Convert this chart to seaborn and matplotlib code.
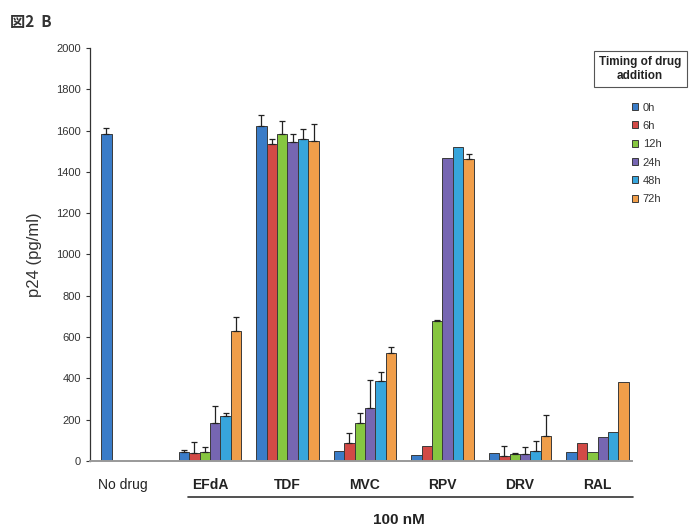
import matplotlib
matplotlib.use("Agg")
import matplotlib.pyplot as plt
import matplotlib.transforms as mtransforms
import seaborn as sns
import numpy as np
import pandas as pd
from matplotlib.lines import Line2D

drugs = ["No drug", "EFdA", "TDF", "MVC", "RPV", "DRV", "RAL"]
timings = ["0h", "6h", "12h", "24h", "48h", "72h"]

# mean p24 values (pg/ml) per drug, one per timing
v_nodrug = [1582, np.nan, np.nan, np.nan, np.nan, np.nan]
v_efda = [43, 37, 43, 186, 220, 631]
v_tdf = [1622, 1534, 1583, 1543, 1561, 1548]
v_mvc = [50, 89, 182, 255, 387, 524]
v_rpv = [29, 71, 679, 1466, 1519, 1461]
v_drv = [37, 24, 34, 32, 50, 122]
v_ral = [44, 87, 42, 118, 140, 382]

# upper error (SD)
e_nodrug = [29, 0, 0, 0, 0, 0]
e_efda = [12, 56, 23, 80, 11, 68]
e_tdf = [54, 24, 63, 40, 45, 82]
e_mvc = [0, 45, 52, 137, 43, 26]
e_rpv = [0, 0, 5, 0, 0, 24]
e_drv = [0, 50, 3, 37, 47, 100]
e_ral = [0, 0, 0, 0, 0, 0]

vals = [v_nodrug, v_efda, v_tdf, v_mvc, v_rpv, v_drv, v_ral]
errs = [e_nodrug, e_efda, e_tdf, e_mvc, e_rpv, e_drv, e_ral]

colors = ["#3a7cc8", "#d24a46", "#86c640", "#7666b2", "#37a5dc", "#f09e4a"]

rows = []
for d, vs, es in zip(drugs, vals, errs):
    for t, v, e in zip(timings, vs, es):
        rows.append({"drug": d, "timing": t, "p24": v, "err": e})
df = pd.DataFrame(rows)

sns.set_theme(style="white")
plt.rcParams["font.family"] = ["Liberation Sans", "Noto Sans CJK JP", "DejaVu Sans"]

W, H = 695, 529
fig = plt.figure(figsize=(W / 100, H / 100), dpi=100)
ax = fig.add_axes([90 / W, 1 - 461 / H, (632 - 90) / W, (461 - 48) / H])

sns.barplot(data=df, x="drug", y="p24", hue="timing", order=drugs,
            hue_order=timings, palette=colors, errorbar=None, width=0.81,
            saturation=1, edgecolor="#3a3a3a", linewidth=0.7, ax=ax, legend=True)

# error bars (upper only) using bar positions from the drawn bars
for cont, t in zip(ax.containers, timings):
    sub = df[df["timing"] == t].set_index("drug")
    for bar in cont.patches:
        xc = bar.get_x() + bar.get_width() / 2
        h = bar.get_height()
        if not np.isfinite(h):
            continue
        d = drugs[int(round(xc))]
        e = sub.loc[d, "err"]
        if e <= 0:
            continue
        ax.errorbar(xc, h, yerr=[[0], [e]], fmt="none", ecolor="#222222",
                    elinewidth=0.9, capsize=2.5, capthick=0.9, zorder=1)

ax.set_xlim(-0.548, 6.445)
ax.set_ylim(0, 2000)
ax.set_yticks(np.arange(0, 2001, 200))
ax.tick_params(axis="y", labelsize=8, labelcolor="#333333", length=3,
               width=0.8, color="#333333", direction="out", left=True)
ax.tick_params(axis="x", length=0, pad=12)
ax.set_xlabel("")
ax.set_ylabel("p24 (pg/ml)", fontsize=12, color="#333333", labelpad=10)

labels = ax.get_xticklabels()
for lab in labels:
    lab.set_fontsize(10)
    lab.set_color("#222222")
    if lab.get_text() != "No drug":
        lab.set_fontweight("bold")
    else:
        lab.set_transform(lab.get_transform() +
                          mtransforms.ScaledTranslation(-0.1, 0, fig.dpi_scale_trans))

for s in ["top", "right"]:
    ax.spines[s].set_visible(False)
ax.spines["left"].set_color("#333333")
ax.spines["left"].set_linewidth(0.9)
ax.spines["bottom"].set_color("#999999")
ax.spines["bottom"].set_linewidth(1.4)

# legend
handles, lbls = ax.get_legend_handles_labels()
leg = ax.legend(handles, lbls, loc="upper left", bbox_to_anchor=(626 / W, 1 - 97 / H),
                bbox_transform=fig.transFigure, frameon=False, fontsize=8,
                handlelength=0.6, handleheight=0.6, handletextpad=0.4,
                labelspacing=0.75, borderpad=0)
for t in leg.get_texts():
    t.set_color("#333333")

fig.text(640 / W, 1 - 69 / H, "Timing of drug\naddition", ha="center", va="center",
         fontsize=8.5, fontweight="bold", color="#222222", linespacing=1.15,
         bbox=dict(boxstyle="square,pad=0.45", facecolor="white",
                   edgecolor="#555555", linewidth=0.8))

fig.text(10 / W, 1 - 22 / H, "図2  B", ha="left", va="center", fontsize=11,
         fontweight="bold", color="#333333",
         family=["Noto Sans CJK JP", "DejaVu Sans"])

fig.add_artist(Line2D([188 / W, 633 / W], [1 - 497 / H, 1 - 497 / H],
                      transform=fig.transFigure, color="#333333", linewidth=1.2))
fig.text(399 / W, 1 - 520 / H, "100 nM", ha="center", va="center", fontsize=11,
         fontweight="bold", color="#222222")

fig.savefig("out.png", dpi=100)
